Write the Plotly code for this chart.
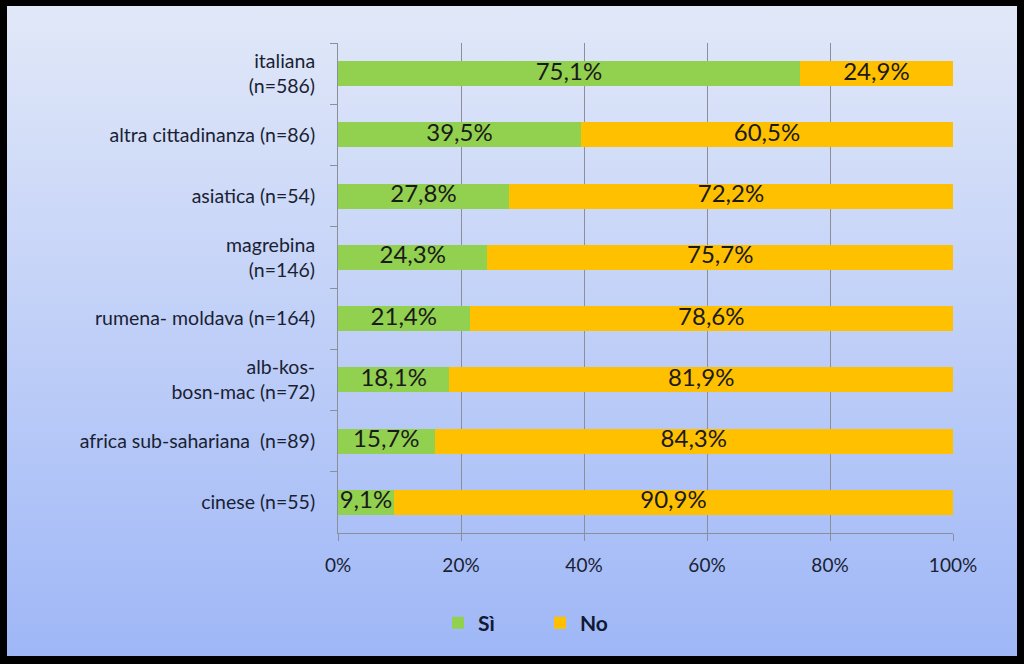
import base64
import plotly.graph_objects as go

categories = [
    "italiana<br>(n=586)",
    "altra cittadinanza (n=86)",
    "asiatica (n=54)",
    "magrebina<br>(n=146)",
    "rumena- moldava (n=164)",
    "alb-kos-<br>bosn-mac (n=72)",
    "africa sub-sahariana  (n=89)",
    "cinese (n=55)",
]
si_values = [75.1, 39.5, 27.8, 24.3, 21.4, 18.1, 15.7, 9.1]
no_values = [24.9, 60.5, 72.2, 75.7, 78.6, 81.9, 84.3, 90.9]
tick_values = [0, 20, 40, 60, 80, 100]
tick_labels = ["0%", "20%", "40%", "60%", "80%", "100%"]

GREEN = "#92d050"
ORANGE = "#ffc000"
FONT = "Lato, 'Open Sans', sans-serif"
TXT = "#1a1f33"

fig = go.Figure()
fig.add_trace(go.Bar(y=categories, x=si_values, name="Sì", orientation="h",
                     marker=dict(color=GREEN, line=dict(width=0)), width=0.41,
                     hoverinfo="x+y"))
fig.add_trace(go.Bar(y=categories, x=no_values, name="No", orientation="h",
                     marker=dict(color=ORANGE, line=dict(width=0)), width=0.41,
                     hoverinfo="x+y"))

# data labels centred in each segment
si_mid = [s / 2 for s in si_values]
no_mid = [s + n / 2 for s, n in zip(si_values, no_values)]
fig.add_trace(go.Scatter(y=categories, x=si_mid, mode="text",
                         text=[f"{v:.1f}%".replace(".", ",") for v in si_values],
                         textfont=dict(family=FONT, size=24, color="#1a1a1a"),
                         showlegend=False, hoverinfo="skip", cliponaxis=False))
fig.add_trace(go.Scatter(y=categories, x=no_mid, mode="text",
                         text=[f"{v:.1f}%".replace(".", ",") for v in no_values],
                         textfont=dict(family=FONT, size=24, color="#1a1a1a"),
                         showlegend=False, hoverinfo="skip", cliponaxis=False))

svg = ('<svg xmlns="http://www.w3.org/2000/svg" width="100" height="100" '
       'viewBox="0 0 100 100" preserveAspectRatio="none"><defs>'
       '<linearGradient id="g" x1="0" y1="0" x2="0" y2="1">'
       '<stop offset="0" stop-color="#e1e8f8"/>'
       '<stop offset="1" stop-color="#9fb7f7"/>'
       '</linearGradient></defs><rect width="100" height="100" fill="url(#g)"/></svg>')
src = "data:image/svg+xml;base64," + base64.b64encode(svg.encode()).decode()

L, R, T, B = 338, 953, 43, 533
pw, ph = R - L, B - T

fig.add_layout_image(dict(
    source=src, xref="paper", yref="paper",
    x=(7 - L) / pw, y=(B - 6) / ph,
    sizex=(1017 - 7) / pw, sizey=(656 - 6) / ph,
    xanchor="left", yanchor="top", sizing="stretch", layer="below",
))

fig.update_layout(
    width=1024, height=664,
    barmode="stack",
    separators=",.",
    paper_bgcolor="#000000",
    plot_bgcolor="rgba(0,0,0,0)",
    margin=dict(l=L, r=1024 - R, t=T, b=664 - B, pad=0),
    font=dict(family=FONT, size=16, color=TXT),
    xaxis=dict(range=[0, 100], tickmode="array", tickvals=tick_values,
               ticktext=tick_labels,
               showgrid=True, gridcolor="#8a8f9a", gridwidth=1,
               showline=True, linecolor="#8a8f9a", linewidth=1,
               ticks="outside", ticklen=7, tickcolor="#8a8f9a",
               tickfont=dict(family=FONT, size=19, color=TXT),
               ticklabelstandoff=8,
               zeroline=False, fixedrange=True),
    yaxis=dict(categoryorder="array", categoryarray=categories,
               autorange="reversed",
               showline=True, linecolor="#8a8f9a", linewidth=1,
               ticks="outside", ticklen=7, tickcolor="#8a8f9a",
               tickson="boundaries", showgrid=False,
               tickfont=dict(family=FONT, size=19.5, color=TXT),
               ticklabelstandoff=18, fixedrange=True),
    legend=dict(orientation="h", xref="container", yref="container",
                x=540 / 1024, y=1 - 623 / 664, xanchor="center", yanchor="middle",
                traceorder="normal",
                font=dict(family=FONT, size=21, color="#111a33", weight="bold"),
                bgcolor="rgba(0,0,0,0)", itemwidth=30, tracegroupgap=0,
                entrywidth=57),
    showlegend=True,
)

fig.write_html("out.html", config={"displayModeBar": False},
               post_script="document.body.style.margin='0';document.body.style.padding='0';")
